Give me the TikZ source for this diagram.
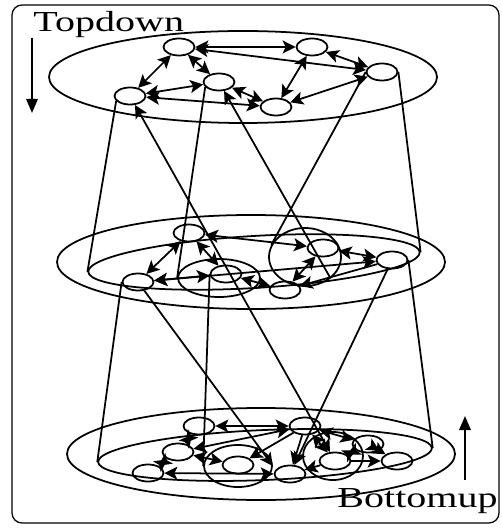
\documentclass[tikz,border=0pt]{standalone}
\usepackage{fontspec}
\setmainfont{Liberation Serif}
\usepackage{tikz}
\usetikzlibrary{arrows.meta, shapes.geometric}

\begin{document}
\begin{tikzpicture}[
  % One unit is one pixel of the scan, y runs down the page.
  x=0.2mm, y=-0.2mm,
  st/.style={draw, ellipse, minimum width=6.2mm, minimum height=3.4mm, inner sep=0pt,
             line width=1pt},
  ring/.style={draw, ellipse, inner sep=0pt, line width=1pt},
  both/.style={{Stealth[length=2.6mm, width=2.6mm, inset=0.6mm]}-{Stealth[length=2.6mm, width=2.6mm, inset=0.6mm]},
               line width=1pt},
  tohead/.style={-{Stealth[length=2.6mm, width=2.6mm, inset=0.6mm]}, line width=1pt},
  link/.style={line width=1pt},
  dirarrow/.style={-{Triangle[length=2.8mm, width=2.3mm]}, line width=1pt},
  dirlabel/.style={font=\fontsize{16.5}{18}\selectfont, inner sep=0pt, xscale=1.38}
]
\useasboundingbox (0,0) rectangle (502,528);

% --- Frame ---
\draw[line width=0.7pt, rounded corners=2mm] (12,5) rectangle (499,523);

% --- Direction labels ---
\node[dirlabel, anchor=base west] (tdlabel) at (33,32) {Topdown};
\coordinate (tdfrom) at (32,38);
\coordinate (tdto)   at (32,113);
\draw[dirarrow] (tdfrom) -- (tdto);

\node[dirlabel, anchor=base west] (bulabel) at (337,507) {Bottomup};
\coordinate (bufrom) at (465,480);
\coordinate (buto)   at (465,416);
\draw[dirarrow] (bufrom) -- (buto);

% --- Top level ---
\node[ring, minimum width=77.6mm, minimum height=18.4mm] (toplevel) at (243,77) {};
\node[st] (ta) at (179,47) {};
\node[st] (tb) at (312,47) {};
\node[st] (tc) at (382,72) {};
\node[st] (td) at (130,96) {};
\node[st] (te) at (219,82) {};
\node[st] (tf) at (276,107) {};

\draw[both] (ta) -- (tb);
\draw[both] (ta) -- (tc);
\draw[both] (ta) -- (td);
\draw[both] (ta) -- (te);
\draw[both] (tb) -- (tc);
\draw[both] (tb) -- (tf);
\draw[both] (tc) -- (tf);
\draw[both] (td) -- (te);
\draw[both] (td) -- (tf);
\draw[both] (te) -- (tf);

% --- Middle level ---
\node[ring, minimum width=77.6mm, minimum height=18.8mm] (midlevel) at (251,262) {};
\node[ring, minimum width=66.4mm, minimum height=10.4mm, rotate=3.4] (midinner) at (254,262) {};
\node[ring, minimum width=16.4mm, minimum height=7.6mm] (mgroupl) at (219,278) {};
\node[ring, minimum width=14.4mm, minimum height=11.6mm] (mgroupr) at (305,257) {};
\node[st] (ma) at (189,233) {};
\node[st] (mb) at (138,282) {};
\node[st] (mc) at (226,274) {};
\node[st] (md) at (285,290) {};
\node[st] (me) at (323,248) {};
\node[st] (mf) at (392,260) {};

\draw[both] (ma) -- (mb);
\draw[both] (ma) -- (mc);
\draw[both] (ma) -- (me);
\draw[both] (mb) -- (mc);
\draw[both] (mb) -- (mf);
\draw[both] (mc) -- (md);
\draw[both] (md) -- (me);
\draw[tohead] (mf) -- (md);
\draw[both] (me) -- (mf);

% --- Bottom level ---
\node[ring, minimum width=77.6mm, minimum height=18.4mm] (botlevel) at (261,454) {};
\node[ring, minimum width=66.8mm, minimum height=10mm, rotate=2.4] (botinner) at (265,455) {};
\node[ring, minimum width=13.6mm, minimum height=8.4mm] (bgroupl) at (238,466) {};
\node[ring, minimum width=12mm, minimum height=9.6mm] (bgroupr) at (333,456) {};
\node[st] (ba) at (199,426) {};
\node[st] (bb) at (178,452) {};
\node[st] (bc) at (148,473) {};
\node[st] (bd) at (238,465) {};
\node[st] (be) at (305,426) {};
\node[st] (bf) at (290,474) {};
\node[st] (bg) at (335,461) {};
\node[st] (bh) at (368,444) {};
\node[st] (bi) at (397,461) {};

\draw[both] (ba) -- (be);
\draw[both] (ba) -- (bb);
\draw[both] (bb) -- (bc);
\draw[both] (bc) -- (bf);
\draw[both] (bb) -- (bd);
\draw[both] (bb) -- (be);
\draw[tohead] (be) -- (bd);
\draw[both] (be) -- (bg);
\draw[both] (be) -- (bh);
\draw[tohead] (be) -- (bf);
\draw[tohead] (bg) -- (bf);
\draw[both] (bg) -- (bh);
\draw[tohead] (bg) -- (bi);
\draw[both] (bh) -- (bi);

% --- Between the levels ---
\draw[link] (td.200) -- (midinner.west);
\draw[link] (tc.east) -- (midinner.east);
\draw[link] (te.200) -- (mgroupl.west);
\draw[link] (tc.west) -- (mgroupr.160);
\draw[tohead] (mgroupr.-40) -- (te);
\draw[both] (td) -- (bg);
\draw[link] (mb.west) -- (botinner.west);
\draw[link] (mf.east) -- (botinner.east);
\draw[link] (mc.west) -- (bgroupl.west);
\draw[tohead] (mb) -- (bgroupl.east);
\draw[tohead] (mf) -- (bf);

\end{tikzpicture}
\end{document}
